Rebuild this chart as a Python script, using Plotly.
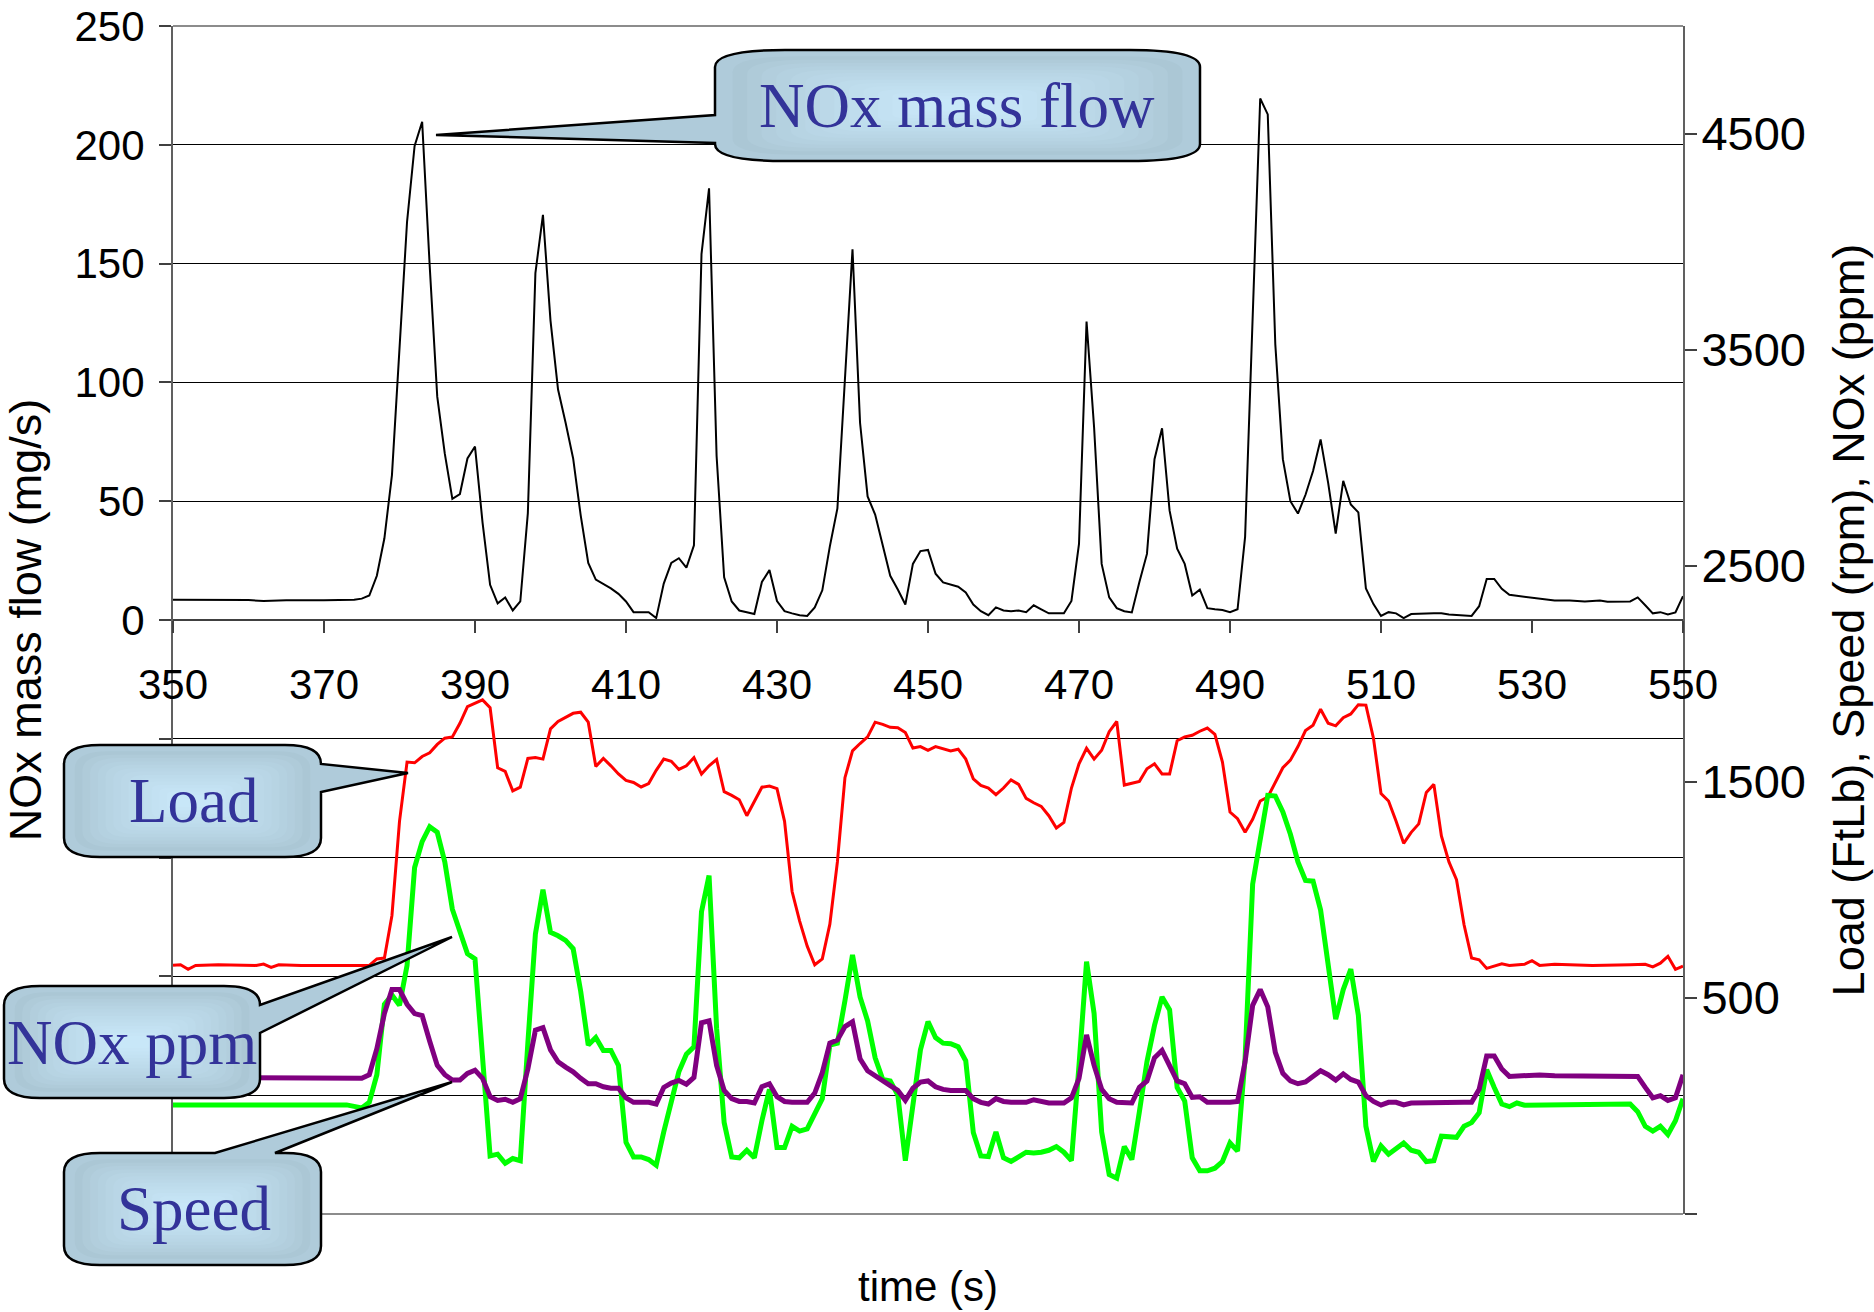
import plotly.graph_objects as go

# ---------------- data ----------------
t_mass = [350, 355, 360, 362, 365, 370, 374, 375, 376, 377, 378, 379, 380, 381, 382, 383, 384, 385, 386, 387,
          388, 389, 390, 391, 392, 393, 394, 395, 396, 397, 398, 399, 400, 401, 402, 403, 404, 405, 406, 407,
          408, 409, 410, 411, 413, 414, 415, 416, 417, 418, 419, 420, 421, 422, 423, 424, 425, 426, 427, 428,
          429, 430, 431, 432, 433, 434, 435, 436, 437, 438, 439, 440, 441, 442, 443, 444, 445, 446, 447, 448,
          449, 450, 451, 452, 453, 454, 455, 456, 457, 458, 459, 460, 461, 462, 463, 464, 465, 466, 468, 469,
          470, 471, 472, 473, 474, 475, 476, 477, 478, 479, 480, 481, 482, 483, 484, 485, 486, 487, 488, 489,
          490, 491, 492, 493, 494, 495, 496, 497, 498, 499, 500, 501, 502, 503, 504, 505, 506, 507, 508, 509,
          510, 511, 512, 513, 514, 517, 518, 519, 522, 523, 524, 525, 526, 527, 529, 531, 533, 535, 537, 539,
          540, 543, 544, 545, 546, 547, 548, 549, 550]
nox_mass = [8.5, 8.3, 8.4, 8.0, 8.3, 8.3, 8.5, 9.0, 10.3, 18.6, 34.4, 61, 116, 167.6, 199.5, 209.7, 149, 94, 70, 51,
            53, 68, 73, 41, 14.8, 7, 9.5, 4, 7.8, 45, 146, 170.5, 126, 97, 83, 68, 44, 24, 17, 15.3,
            13.3, 11, 7.8, 3.3, 3.3, 0.8, 15.3, 24, 26, 22, 31.4, 154, 181.7, 69, 18, 7.8, 4, 3.3, 2.5, 16,
            21, 8, 3.7, 2.8, 2, 1.7, 5.3, 12.5, 31, 47, 103, 156, 83, 52, 44.4, 31, 18.6, 12.8, 6.5, 23.6,
            29, 29.5, 19.5, 15.8, 14.8, 14, 11.6, 6.5, 3.7, 2, 5.3, 4, 3.7, 4, 3.3, 6.2, 4.5, 2.8, 2.8, 8,
            32, 125.6, 81, 23.6, 9.5, 5, 3.7, 3.2, 16, 27.8, 67.7, 80.7, 46, 30, 23.6, 10.3, 12.8, 5, 4.5, 4.2,
            3.3, 4.5, 35, 127.6, 219.5, 212.8, 116, 67.7, 50, 44.8, 52.7, 62.7, 76, 57.7, 36.4, 58.6, 48.6, 45.3, 13.3, 6.7,
            1.7, 3.3, 2.8, 0.8, 2.5, 2.8, 2.8, 2.3, 1.7, 5.8, 17.3, 17.3, 13.1, 10.6, 9.8, 9.2, 8.2, 8.2, 7.8, 8.2,
            7.7, 7.8, 9.5, 6.2, 2.8, 3.3, 2.3, 3.2, 10]

t_load = [350, 351, 352, 353, 356, 361, 362, 363, 364, 367, 376, 377, 378, 379, 380, 381, 382, 383, 384, 385,
          386, 387, 388, 389, 391, 392, 393, 394, 395, 396, 397, 398, 399, 400, 401, 402, 403, 404, 405, 406,
          407, 408, 409, 410, 411, 412, 413, 414, 415, 416, 417, 418, 419, 420, 421, 422, 423, 424, 425, 426,
          427, 428, 429, 430, 431, 432, 433, 434, 435, 436, 437, 438, 439, 440, 441, 442, 443, 444, 445, 446,
          447, 448, 449, 450, 451, 452, 453, 454, 455, 456, 457, 458, 459, 460, 461, 462, 463, 464, 465, 466,
          467, 468, 469, 470, 471, 472, 473, 474, 475, 476, 477, 478, 479, 480, 481, 482, 483, 484, 485, 486,
          487, 488, 489, 490, 491, 492, 493, 494, 495, 496, 497, 498, 499, 500, 501, 502, 503, 504, 505, 506,
          507, 508, 509, 510, 511, 512, 513, 514, 515, 516, 517, 518, 519, 520, 521, 522, 523, 524, 526, 527,
          529, 530, 531, 533, 536, 538, 543, 545, 546, 547, 548, 549, 550]
load = [651, 654, 633, 651, 654, 651, 657, 642, 654, 651, 651, 681, 685, 882, 1318, 1592, 1589, 1618, 1635, 1674,
        1703, 1709, 1772, 1849, 1880, 1844, 1566, 1549, 1459, 1476, 1609, 1613, 1606, 1746, 1780, 1801, 1818, 1823, 1777, 1572,
        1609, 1575, 1537, 1507, 1498, 1477, 1493, 1554, 1606, 1596, 1558, 1575, 1613, 1537, 1575, 1604, 1455, 1438, 1418, 1344,
        1409, 1476, 1481, 1469, 1318, 993, 856, 740, 654, 681, 842, 1130, 1520, 1644, 1678, 1709, 1777, 1767, 1753, 1751,
        1729, 1657, 1664, 1647, 1664, 1654, 1644, 1652, 1606, 1515, 1484, 1472, 1441, 1472, 1510, 1489, 1424, 1404, 1387, 1344,
        1287, 1313, 1472, 1584, 1656, 1606, 1647, 1733, 1780, 1486, 1493, 1503, 1561, 1584, 1537, 1537, 1691, 1709, 1716, 1735,
        1750, 1721, 1592, 1361, 1330, 1267, 1327, 1412, 1430, 1498, 1566, 1601, 1664, 1738, 1763, 1837, 1772, 1760, 1798, 1815,
        1858, 1856, 1703, 1447, 1412, 1318, 1216, 1267, 1306, 1452, 1489, 1250, 1130, 1048, 839, 685, 677, 637, 658, 651,
        656, 673, 651, 656, 654, 651, 654, 656, 644, 661, 693, 633, 647]

t_speed = [350, 373, 375, 376, 377, 378, 379, 380, 381, 382, 383, 384, 385, 386, 387, 388, 389, 390, 391, 392,
           393, 394, 395, 396, 397, 398, 399, 400, 401, 402, 403, 404, 405, 406, 407, 408, 409, 410, 411, 412,
           413, 414, 415, 416, 417, 418, 419, 420, 421, 422, 423, 424, 425, 426, 427, 428, 429, 430, 431, 432,
           433, 434, 435, 436, 437, 438, 439, 440, 441, 442, 443, 444, 445, 446, 447, 448, 449, 450, 451, 452,
           453, 454, 455, 456, 457, 458, 459, 460, 461, 462, 463, 464, 465, 466, 467, 468, 469, 470, 471, 472,
           473, 474, 475, 476, 477, 478, 479, 480, 481, 482, 483, 484, 485, 486, 487, 488, 489, 490, 491, 492,
           493, 494, 495, 496, 497, 498, 499, 500, 501, 502, 503, 504, 505, 506, 507, 508, 509, 510, 511, 512,
           513, 514, 515, 516, 517, 518, 519, 520, 521, 522, 523, 524, 525, 526, 527, 528, 529, 532, 536, 543,
           544, 545, 546, 547, 548, 549, 550]
speed = [5, 5, -9, 17, 145, 471, 514, 466, 651, 1104, 1224, 1293, 1267, 1130, 911, 813, 705, 681, 205, -231,
         -223, -265, -243, -253, 291, 796, 1001, 804, 788, 767, 728, 531, 282, 317, 257, 257, 188, -168, -236, -236,
         -248, -274, -120, 17, 158, 240, 274, 899, 1067, 360, -77, -236, -240, -205, -240, -68, 77, -192, -192, -94,
         -116, -106, -38, 34, 282, 291, 488, 699, 505, 394, 223, 123, 116, 51, -253, 17, 260, 391, 317, 291,
         288, 274, 209, -123, -231, -234, -120, -240, -257, -236, -214, -217, -214, -205, -188, -214, -253, 188, 668, 428,
         -120, -317, -334, -188, -248, -26, 205, 373, 505, 445, 86, 23, -240, -300, -300, -288, -257, -171, -209, 223,
         1027, 1233, 1438, 1435, 1361, 1258, 1130, 1044, 1041, 907, 642, 402, 539, 634, 420, -94, -257, -185, -223, -197,
         -171, -205, -214, -257, -253, -140, -140, -145, -94, -77, -31, 168, 86, 9, -3, 14, 4, 5, 5, 9,
         -26, -94, -116, -94, -132, -68, 34]

t_ppm = [350, 362, 375, 376, 377, 378, 379, 380, 381, 382, 383, 384, 385, 386, 387, 388, 389, 390, 391, 392,
         393, 394, 395, 396, 397, 398, 399, 400, 401, 402, 403, 404, 405, 406, 407, 408, 409, 410, 411, 413,
         414, 415, 416, 417, 418, 419, 420, 421, 422, 423, 424, 425, 426, 427, 428, 429, 430, 431, 432, 434,
         435, 436, 437, 438, 439, 440, 441, 442, 443, 444, 445, 446, 447, 448, 449, 450, 451, 452, 453, 455,
         456, 457, 458, 459, 460, 461, 463, 464, 465, 466, 468, 469, 470, 471, 472, 473, 474, 475, 477, 478,
         479, 480, 481, 482, 483, 484, 485, 486, 487, 490, 491, 492, 493, 494, 495, 496, 497, 498, 499, 500,
         501, 502, 503, 504, 505, 506, 507, 508, 509, 510, 511, 512, 513, 514, 521, 522, 523, 524, 525, 526,
         527, 529, 531, 533, 539, 544, 545, 546, 547, 548, 549, 550]
nox_ppm = [133, 133, 128, 145, 265, 428, 539, 539, 471, 428, 419, 300, 188, 145, 120, 120, 151, 166, 128, 43,
           26, 31, 17, 34, 171, 351, 363, 260, 205, 180, 158, 128, 103, 103, 89, 82, 82, 38, 17, 17,
           9, 86, 106, 118, 101, 132, 385, 394, 188, 72, 34, 21, 21, 14, 89, 103, 43, 21, 17, 17,
           60, 154, 291, 305, 368, 390, 219, 163, 140, 111, 94, 72, 26, 82, 111, 116, 89, 77, 72, 72,
           34, 17, 9, 34, 21, 17, 17, 29, 21, 14, 14, 38, 128, 329, 188, 77, 34, 17, 14, 86,
           116, 223, 257, 188, 116, 103, 40, 43, 17, 17, 21, 205, 466, 539, 459, 248, 151, 116, 103, 111,
           137, 163, 145, 120, 149, 123, 111, 48, 21, 4, 17, 17, 5, 14, 17, 17, 77, 231, 231, 171,
           137, 140, 144, 140, 137, 137, 86, 38, 48, 26, 38, 145]

x_ticks = list(range(350, 551, 20))
left_ticks = list(range(-250, 251, 50))
left_ticktext = ["" if v < 0 else str(v) for v in left_ticks]
right_ticks = [-500, 500, 1500, 2500, 3500, 4500]
right_ticktext = ["" if v < 0 else str(v) for v in right_ticks]

# ---------------- geometry ----------------
FW, FH = 1874, 1312
ML, MR, MT, MB = 173, 191, 26, 98
PW = FW - ML - MR
PH = FH - MT - MB


def px(X):
    return (X - ML) / PW


def py(Y):
    return (MT + PH - Y) / PH


def pt(X, Y):
    return f"{px(X):.5f},{py(Y):.5f}"


def outline(x0, y0, x1, y1, rx, ry, wedge=None):
    side = wedge[0] if wedge else None
    pts = wedge[1:] if wedge else []
    s = [f"M{pt(x0 + rx, y0)}"]
    if side == "top":
        s += [f"L{pt(*p)}" for p in pts]
    s.append(f"L{pt(x1 - rx, y0)}")
    s.append(f"Q{pt(x1, y0)} {pt(x1, y0 + ry)}")
    if side == "right":
        s += [f"L{pt(*p)}" for p in pts]
    s.append(f"L{pt(x1, y1 - ry)}")
    s.append(f"Q{pt(x1, y1)} {pt(x1 - rx, y1)}")
    s.append(f"L{pt(x0 + rx, y1)}")
    s.append(f"Q{pt(x0, y1)} {pt(x0, y1 - ry)}")
    if side == "left":
        s += [f"L{pt(*p)}" for p in pts]
    s.append(f"L{pt(x0, y0 + ry)}")
    s.append(f"Q{pt(x0, y0)} {pt(x0 + rx, y0)}")
    s.append("Z")
    return " ".join(s)


DARK = (166, 193, 207)
LIGHT = (202, 233, 250)


def mix(f):
    c = [round(DARK[i] + (LIGHT[i] - DARK[i]) * f) for i in range(3)]
    return f"rgb({c[0]},{c[1]},{c[2]})"


shapes = []
shapes.append(dict(type="line", xref="paper", yref="paper", x0=0, x1=1, y0=1, y1=1,
                   line=dict(color="#8c8c8c", width=2), layer="above"))
shapes.append(dict(type="line", xref="paper", yref="paper", x0=0, x1=1, y0=0, y1=0,
                   line=dict(color="#8c8c8c", width=2), layer="above"))

callouts = [
    (715, 50, 1200, 161, 70, 17, ("left", (715, 143), (436, 135), (715, 115)), "NOx mass flow", (957, 108)),
    (64, 745, 321, 857, 36, 19, ("right", (321, 764), (408, 773), (321, 792)), "Load", (193, 803)),
    (4, 986, 260, 1098, 36, 19, ("right", (260, 1005), (452, 937), (260, 1033)), "NOx ppm", (132, 1045)),
    (64, 1153, 321, 1265, 36, 19, ("top", (215, 1153), (452, 1082), (275, 1153)), "Speed", (194, 1211)),
]

annotations = []
N = 14
for (x0, y0, x1, y1, rx, ry, wedge, text, (tx, ty)) in callouts:
    shapes.append(dict(type="path", xref="paper", yref="paper", path=outline(x0, y0, x1, y1, rx, ry, wedge),
                       fillcolor=mix(0.25), line=dict(color="black", width=2.5), layer="above"))
    hw, hh = (x1 - x0) / 2, (y1 - y0) / 2
    for i in range(N):
        f = (i + 1) / (N + 1)
        dx, dy = 3 + f * hw * 0.9, 3 + f * hh * 0.9
        shapes.append(dict(type="path", xref="paper", yref="paper",
                           path=outline(x0 + dx, y0 + dy, x1 - dx, y1 - dy,
                                        max(rx * (1 - f), 2), max(ry * (1 - f), 2)),
                           fillcolor=mix(f ** 0.7), line=dict(width=0), layer="above"))
    annotations.append(dict(text=text, xref="paper", yref="paper", x=px(tx), y=py(ty - 2),
                            xanchor="center", yanchor="middle", showarrow=False,
                            font=dict(family="Liberation Serif", size=63, color="#333399")))

annotations.append(dict(text="time (s)", xref="paper", yref="paper", x=0.5, y=py(1286),
                        xanchor="center", yanchor="middle", showarrow=False,
                        font=dict(family="Liberation Sans", size=42, color="black")))

fig = go.Figure()
fig.add_trace(go.Scatter(x=t_mass, y=nox_mass, mode="lines", name="NOx mass flow",
                         line=dict(color="black", width=2), yaxis="y"))
fig.add_trace(go.Scatter(x=t_load, y=load, mode="lines", name="Load",
                         line=dict(color="#ff0000", width=3), yaxis="y2"))
fig.add_trace(go.Scatter(x=t_speed, y=speed, mode="lines", name="Speed",
                         line=dict(color="#00ff00", width=5), yaxis="y2"))
fig.add_trace(go.Scatter(x=t_ppm, y=nox_ppm, mode="lines", name="NOx ppm",
                         line=dict(color="#800080", width=5), yaxis="y2"))

axfont = dict(family="Liberation Sans", color="black")
fig.update_layout(
    width=FW, height=FH,
    margin=dict(l=ML, r=MR, t=MT, b=MB, pad=0, autoexpand=False),
    paper_bgcolor="white", plot_bgcolor="white",
    showlegend=False,
    xaxis=dict(range=[350, 550], domain=[0, 1], anchor="free", position=0.5, automargin=False,
               tickvals=x_ticks, ticks="outside", ticklen=12, tickwidth=1.5, tickcolor="#404040",
               showline=True, linecolor="#404040", linewidth=2, showgrid=False, zeroline=False,
               tickfont=dict(size=42, **axfont), ticklabelstandoff=16),
    yaxis=dict(range=[-250, 250], domain=[0, 1], tickvals=left_ticks, ticktext=left_ticktext, automargin=False,
               ticks="outside", ticklen=12, tickwidth=1.5, tickcolor="#404040",
               showgrid=True, gridcolor="black", gridwidth=1,
               showline=True, linecolor="#606060", linewidth=2, zeroline=False,
               tickfont=dict(size=42, **axfont), ticklabelstandoff=6,
               title=dict(text="NOx mass flow (mg/s)", font=dict(size=45, **axfont), standoff=20)),
    yaxis2=dict(range=[-500, 5000], overlaying="y", side="right", anchor="x", automargin=False,
                tickvals=right_ticks, ticktext=right_ticktext,
                ticks="outside", ticklen=12, tickwidth=1.5, tickcolor="#404040",
                showgrid=False, showline=True, linecolor="#606060", linewidth=2, zeroline=False,
                tickfont=dict(size=47, **axfont), ticklabelstandoff=-5,
                title=dict(text="Load (FtLb), Speed (rpm), NOx (ppm)", font=dict(size=45, **axfont), standoff=35)),
    shapes=shapes,
    annotations=annotations,
)

fig.write_html("out.html")
